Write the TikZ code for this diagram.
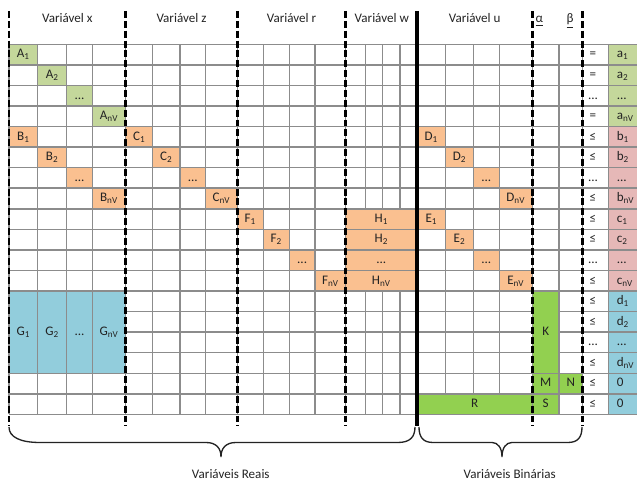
\documentclass[tikz,border=0pt]{standalone}
\usepackage{fontspec}
\setmainfont{Carlito}
\definecolor{olivefill}{RGB}{196,215,155}
\definecolor{orangefill}{RGB}{250,192,144}
\definecolor{pinkfill}{RGB}{230,184,183}
\definecolor{bluefill}{RGB}{146,205,220}
\definecolor{limefill}{RGB}{146,208,80}
\definecolor{gridgray}{RGB}{140,140,140}
\definecolor{inkgray}{RGB}{35,35,35}

\newcommand\lo[1]{\textsubscript{#1}}
\newcommand\ellip{...}
% column boundaries (x, in px) of the table
\def\colx{{9,37.7,66.7,92.3,125.7,152.7,180,205.7,237.3,263.3,289.3,315,345.7,365.7,382.3,400,417,445.7,473.3,499.3,532.3,559,582.7,608.3,637}}
% block of cells: name, first col, last col, first row, last row, style
\newcommand\cellbox[6]{%
  \pgfmathsetmacro\xa{\colx[#2]}%
  \pgfmathtruncatemacro\cnext{#3+1}%
  \pgfmathsetmacro\xb{\colx[\cnext]}%
  \pgfmathsetmacro\ya{44.3+20.56*#4}%
  \pgfmathsetmacro\yb{44.3+20.56*(#5+1)}%
  \path[#6] (\xa,\ya) rectangle (\xb,\yb);%
  \coordinate (#1) at ({(\xa+\xb)/2},{(\ya+\yb)/2});%
}

\begin{document}
\begin{tikzpicture}[x=0.75pt,y=-0.75pt,
  txt/.style={font=\fontsize{9.8}{11}\selectfont, text=inkgray, inner sep=0pt,
              text height=6.8pt, text depth=1.8pt},
  gridline/.style={draw=gridgray, line width=1.1pt},
  merged/.style={draw=gridgray, line width=1.1pt},
  sepline/.style={black, line width=1.9pt, dash pattern=on 5.2pt off 2.2pt},
  splitline/.style={black, line width=3pt},
  bracepath/.style={draw=inkgray, line width=1pt}]
\useasboundingbox (0,0) rectangle (637,484);

% single coloured cells
\cellbox{A1}{0}{0}{0}{0}{fill=olivefill}
\cellbox{A2}{1}{1}{1}{1}{fill=olivefill}
\cellbox{A3}{2}{2}{2}{2}{fill=olivefill}
\cellbox{A4}{3}{3}{3}{3}{fill=olivefill}
\cellbox{B1}{0}{0}{4}{4}{fill=orangefill}
\cellbox{B2}{1}{1}{5}{5}{fill=orangefill}
\cellbox{B3}{2}{2}{6}{6}{fill=orangefill}
\cellbox{B4}{3}{3}{7}{7}{fill=orangefill}
\cellbox{C1}{4}{4}{4}{4}{fill=orangefill}
\cellbox{C2}{5}{5}{5}{5}{fill=orangefill}
\cellbox{C3}{6}{6}{6}{6}{fill=orangefill}
\cellbox{C4}{7}{7}{7}{7}{fill=orangefill}
\cellbox{D1}{16}{16}{4}{4}{fill=orangefill}
\cellbox{D2}{17}{17}{5}{5}{fill=orangefill}
\cellbox{D3}{18}{18}{6}{6}{fill=orangefill}
\cellbox{D4}{19}{19}{7}{7}{fill=orangefill}
\cellbox{F1}{8}{8}{8}{8}{fill=orangefill}
\cellbox{F2}{9}{9}{9}{9}{fill=orangefill}
\cellbox{F3}{10}{10}{10}{10}{fill=orangefill}
\cellbox{F4}{11}{11}{11}{11}{fill=orangefill}
\cellbox{E1}{16}{16}{8}{8}{fill=orangefill}
\cellbox{E2}{17}{17}{9}{9}{fill=orangefill}
\cellbox{E3}{18}{18}{10}{10}{fill=orangefill}
\cellbox{E4}{19}{19}{11}{11}{fill=orangefill}
\cellbox{M}{20}{20}{16}{16}{fill=limefill}
\cellbox{N}{21}{21}{16}{16}{fill=limefill}
\cellbox{S}{20}{20}{17}{17}{fill=limefill}
% right-hand side column and relation column
\foreach \r in {0,1,2,3} {\cellbox{v\r}{23}{23}{\r}{\r}{fill=olivefill}\cellbox{q\r}{22}{22}{\r}{\r}{}}
\foreach \r in {4,5,6,7,8,9,10,11} {\cellbox{v\r}{23}{23}{\r}{\r}{fill=pinkfill}\cellbox{q\r}{22}{22}{\r}{\r}{}}
\foreach \r in {12,13,14,15,16,17} {\cellbox{v\r}{23}{23}{\r}{\r}{fill=bluefill}\cellbox{q\r}{22}{22}{\r}{\r}{}}

% grid
\foreach \i in {0,...,18} {\pgfmathsetmacro\yy{44.3+20.56*\i}\draw[gridline] (9,\yy) -- (637,\yy);}
\foreach \j in {0,...,23} {\pgfmathsetmacro\xx{\colx[\j]}\draw[gridline] (\xx,44.3) -- (\xx,414.38);}

% merged cells
\cellbox{H1}{12}{15}{8}{8}{fill=orangefill,merged}
\cellbox{H2}{12}{15}{9}{9}{fill=orangefill,merged}
\cellbox{H3}{12}{15}{10}{10}{fill=orangefill,merged}
\cellbox{H4}{12}{15}{11}{11}{fill=orangefill,merged}
\cellbox{G1}{0}{0}{12}{15}{fill=bluefill,merged}
\cellbox{G2}{1}{1}{12}{15}{fill=bluefill,merged}
\cellbox{G3}{2}{2}{12}{15}{fill=bluefill,merged}
\cellbox{G4}{3}{3}{12}{15}{fill=bluefill,merged}
\cellbox{K}{20}{20}{12}{15}{fill=limefill,merged}
\cellbox{R}{16}{19}{17}{17}{fill=limefill,merged}

% group separators
\foreach \xx in {9,125.7,237.3,345.7,532.3,582.7} {\draw[sepline] (\xx,11) -- (\xx,426);}
\draw[splitline] (417,11) -- (417,426);

% headers
\node[txt] (hx) at (67.3,19.5) {Variável x};
\node[txt] (hz) at (181.5,19.5) {Variável z};
\node[txt] (hr) at (291.5,19.5) {Variável r};
\node[txt] (hw) at (381.8,19.5) {Variável w};
\node[txt] (hu) at (474.7,19.5) {Variável u};
\node[txt] (halpha) at (539.3,19.5) {\underline{α}};
\node[txt] (hbeta) at (570,19.5) {\underline{β}};

% coefficient labels
\node[txt] (tA1) at (A1) {A\lo{1}};
\node[txt] (tA2) at (A2) {A\lo{2}};
\node[txt] (tA3) at (A3) {\ellip};
\node[txt] (tA4) at (A4) {A\lo{nV}};
\node[txt] (tB1) at (B1) {B\lo{1}};
\node[txt] (tB2) at (B2) {B\lo{2}};
\node[txt] (tB3) at (B3) {\ellip};
\node[txt] (tB4) at (B4) {B\lo{nV}};
\node[txt] (tC1) at (C1) {C\lo{1}};
\node[txt] (tC2) at (C2) {C\lo{2}};
\node[txt] (tC3) at (C3) {\ellip};
\node[txt] (tC4) at (C4) {C\lo{nV}};
\node[txt] (tD1) at (D1) {D\lo{1}};
\node[txt] (tD2) at (D2) {D\lo{2}};
\node[txt] (tD3) at (D3) {\ellip};
\node[txt] (tD4) at (D4) {D\lo{nV}};
\node[txt] (tE1) at (E1) {E\lo{1}};
\node[txt] (tE2) at (E2) {E\lo{2}};
\node[txt] (tE3) at (E3) {\ellip};
\node[txt] (tE4) at (E4) {E\lo{nV}};
\node[txt] (tF1) at (F1) {F\lo{1}};
\node[txt] (tF2) at (F2) {F\lo{2}};
\node[txt] (tF3) at (F3) {\ellip};
\node[txt] (tF4) at (F4) {F\lo{nV}};
\node[txt] (tH1) at (H1) {H\lo{1}};
\node[txt] (tH2) at (H2) {H\lo{2}};
\node[txt] (tH3) at (H3) {\ellip};
\node[txt] (tH4) at (H4) {H\lo{nV}};
\node[txt] (tG1) at (G1) {G\lo{1}};
\node[txt] (tG2) at (G2) {G\lo{2}};
\node[txt] (tG3) at (G3) {\ellip};
\node[txt] (tG4) at (G4) {G\lo{nV}};
\node[txt] (tK) at (K) {K};
\node[txt] (tM) at (M) {M};
\node[txt] (tN) at (N) {N};
\node[txt] (tR) at (R) {R};
\node[txt] (tS) at (S) {S};

% relations
\coordinate (qx) at (593,0);
\foreach \r/\t in {0/=,1/=,2/\ellip,3/=,4/≤,5/≤,6/\ellip,7/≤,8/≤,9/≤,10/\ellip,11/≤,12/≤,13/≤,14/\ellip,15/≤,16/≤,17/≤}
  {\node[txt] (rel\r) at (q\r -| qx) {\t};}
% right-hand sides
\coordinate (vx) at (616.5,0);
\foreach \r/\t in {0/a\lo{1},1/a\lo{2},2/\ellip,3/a\lo{nV},4/b\lo{1},5/b\lo{2},6/\ellip,7/b\lo{nV},8/c\lo{1},9/c\lo{2},10/\ellip,11/c\lo{nV},12/d\lo{1},13/d\lo{2},14/\ellip,15/d\lo{nV},16/0,17/0}
  {\node[txt,anchor=west] (rhs\r) at (v\r -| vx) {\t};}

% braces
\draw[bracepath] (9,427) .. controls (9,437) and (20,442.5) .. (40,442.5) -- (206,442.5)
  .. controls (216,442.5) and (221,448) .. (221,457)
  .. controls (221,448) and (226,442.5) .. (236,442.5) -- (398,442.5)
  .. controls (410,442.5) and (415,437) .. (415,427);
\draw[bracepath] (419,427) .. controls (419,437) and (423,442.5) .. (433,442.5) -- (492,442.5)
  .. controls (498,442.5) and (502,448) .. (502,457)
  .. controls (502,448) and (506,442.5) .. (512,442.5) -- (568,442.5)
  .. controls (578,442.5) and (582,437) .. (582,427);
\node[txt] (lreal) at (230.8,475) {Variáveis Reais};
\node[txt] (lbin) at (509.7,475) {Variáveis Binárias};
\end{tikzpicture}
\end{document}
